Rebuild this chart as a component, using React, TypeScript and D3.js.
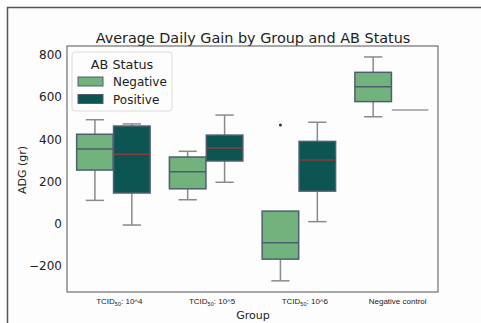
import React from "react";
import * as d3 from "d3";

const groups = ["10^4", "10^5", "10^6", "Negative control"];
const statuses = ["Negative", "Positive"];
// [whiskerLow, q1, median, q3, whiskerHigh] per group
const negativeStats = [
  [110, 254, 354, 424, 493],
  [113, 165, 246, 316, 343],
  [-272, -169, -91, 59, 59],
  [507, 579, 650, 718, 791],
];
const positiveStats = [
  [-7, 145, 329, 463, 473],
  [196, 297, 359, 420, 515],
  [9, 154, 302, 390, 481],
  [539, 539, 539, 539, 539],
];
const negativeOutliers = [[], [], [468], []];
const positiveOutliers = [[], [], [], []];
const yTicks = [-200, 0, 200, 400, 600, 800];

const fills = { Negative: "#72b27c", Positive: "#0c5553" };
const medianColors = { Negative: "#4c5d6d", Positive: "#8a3b3b" };

export default function App() {
  const W = 481, H = 323;
  const left = 67, right = 438, top = 46, bottom = 292;
  const x = d3.scaleBand().domain(groups).range([left, right]).paddingInner(0).paddingOuter(0);
  const y = d3.scaleLinear().domain([-325, 843]).range([bottom, top]);
  const inner = d3.scaleBand().domain(statuses).range([0, x.bandwidth() * 0.8]).padding(0.01);
  const font = "DejaVu Sans, sans-serif";

  const series = [
    { status: "Negative", stats: negativeStats, outliers: negativeOutliers },
    { status: "Positive", stats: positiveStats, outliers: positiveOutliers },
  ];

  return (
    <svg width={W} height={H} style={{ position: "absolute", left: 0, top: 0, background: "#fdfdfd" }}>
      <rect x={0} y={0} width={W} height={H} fill="#fdfdfd" />
      {/* outer frame */}
      <path d={`M7.5,${H} V7.5 H${W}`} fill="none" stroke="#555" strokeWidth={1.5} />
      <text x={253} y={42.5} textAnchor="middle" fontFamily={font} fontSize={14.4} fill="#222">
        Average Daily Gain by Group and AB Status
      </text>
      <rect x={left} y={top} width={right - left} height={bottom - top} fill="none" stroke="#555" strokeWidth={1} />
      {yTicks.map((t) => (
        <text key={t} x={62} y={y(t) + 4.3} textAnchor="end" fontFamily={font} fontSize={12} fill="#222">
          {t < 0 ? "\u2212" + Math.abs(t) : t}
        </text>
      ))}
      <text transform={`translate(26,${(top + bottom) / 2 + 1}) rotate(-90)`} textAnchor="middle" fontFamily={font} fontSize={11} fill="#222">
        ADG (gr)
      </text>
      <text x={253} y={319} textAnchor="middle" fontFamily={font} fontSize={11} fill="#222">Group</text>
      {groups.map((g) => {
        const cx = x(g)! + x.bandwidth() / 2 + 6;
        return g === "Negative control" ? (
          <text key={g} x={cx} y={304} textAnchor="middle" fontFamily="Liberation Sans, sans-serif" fontSize={8} fill="#222">
            {g}
          </text>
        ) : (
          <text key={g} x={cx} y={304} textAnchor="middle" fontFamily="Liberation Sans, sans-serif" fontSize={8} fill="#222">
            TCID<tspan fontSize={5.5} dy={2}>50</tspan><tspan dy={-2}>: {g}</tspan>
          </text>
        );
      })}
      {series.map((s) =>
        groups.map((g, i) => {
          const [lo, q1, med, q3, hi] = s.stats[i];
          const bx = x(g)! + x.bandwidth() * 0.1 + inner(s.status)!;
          const bw = inner.bandwidth();
          const cx = bx + bw / 2;
          const capW = bw * 0.5;
          if (q1 === q3) {
            return (
              <line key={s.status + g} x1={bx} x2={bx + bw} y1={y(med)} y2={y(med)} stroke="#9a9a9a" strokeWidth={1.5} />
            );
          }
          return (
            <g key={s.status + g}>
              <line x1={cx} x2={cx} y1={y(q3)} y2={y(hi)} stroke="#8a8a8a" strokeWidth={1.5} />
              <line x1={cx} x2={cx} y1={y(q1)} y2={y(lo)} stroke="#8a8a8a" strokeWidth={1.5} />
              {hi > q3 && <line x1={cx - capW / 2} x2={cx + capW / 2} y1={y(hi)} y2={y(hi)} stroke="#8a8a8a" strokeWidth={1.5} />}
              <line x1={cx - capW / 2} x2={cx + capW / 2} y1={y(lo)} y2={y(lo)} stroke="#8a8a8a" strokeWidth={1.5} />
              <rect x={bx} y={y(q3)} width={bw} height={y(q1) - y(q3)} fill={fills[s.status]} stroke="#4f5f6f" strokeWidth={1.5} />
              <line x1={bx} x2={bx + bw} y1={y(med)} y2={y(med)} stroke={medianColors[s.status]} strokeWidth={1.5} />
              {s.outliers[i].map((o, k) => (
                <circle key={k} cx={cx} cy={y(o)} r={1.5} fill="#333" />
              ))}
            </g>
          );
        })
      )}
      {/* legend */}
      <rect x={72} y={52} width={100} height={59} rx={3} fill="#fdfdfd" stroke="#ddd" strokeWidth={1} />
      <text x={122} y={68.5} textAnchor="middle" fontFamily={font} fontSize={12.8} fill="#222">AB Status</text>
      {statuses.map((st, k) => (
        <g key={st}>
          <rect x={78} y={77 + k * 17.5} width={25} height={9} fill={fills[st]} stroke="#4f5f6f" strokeWidth={1} />
          <text x={113} y={86 + k * 17.5} fontFamily={font} fontSize={12} fill="#222">{st}</text>
        </g>
      ))}
    </svg>
  );
}
